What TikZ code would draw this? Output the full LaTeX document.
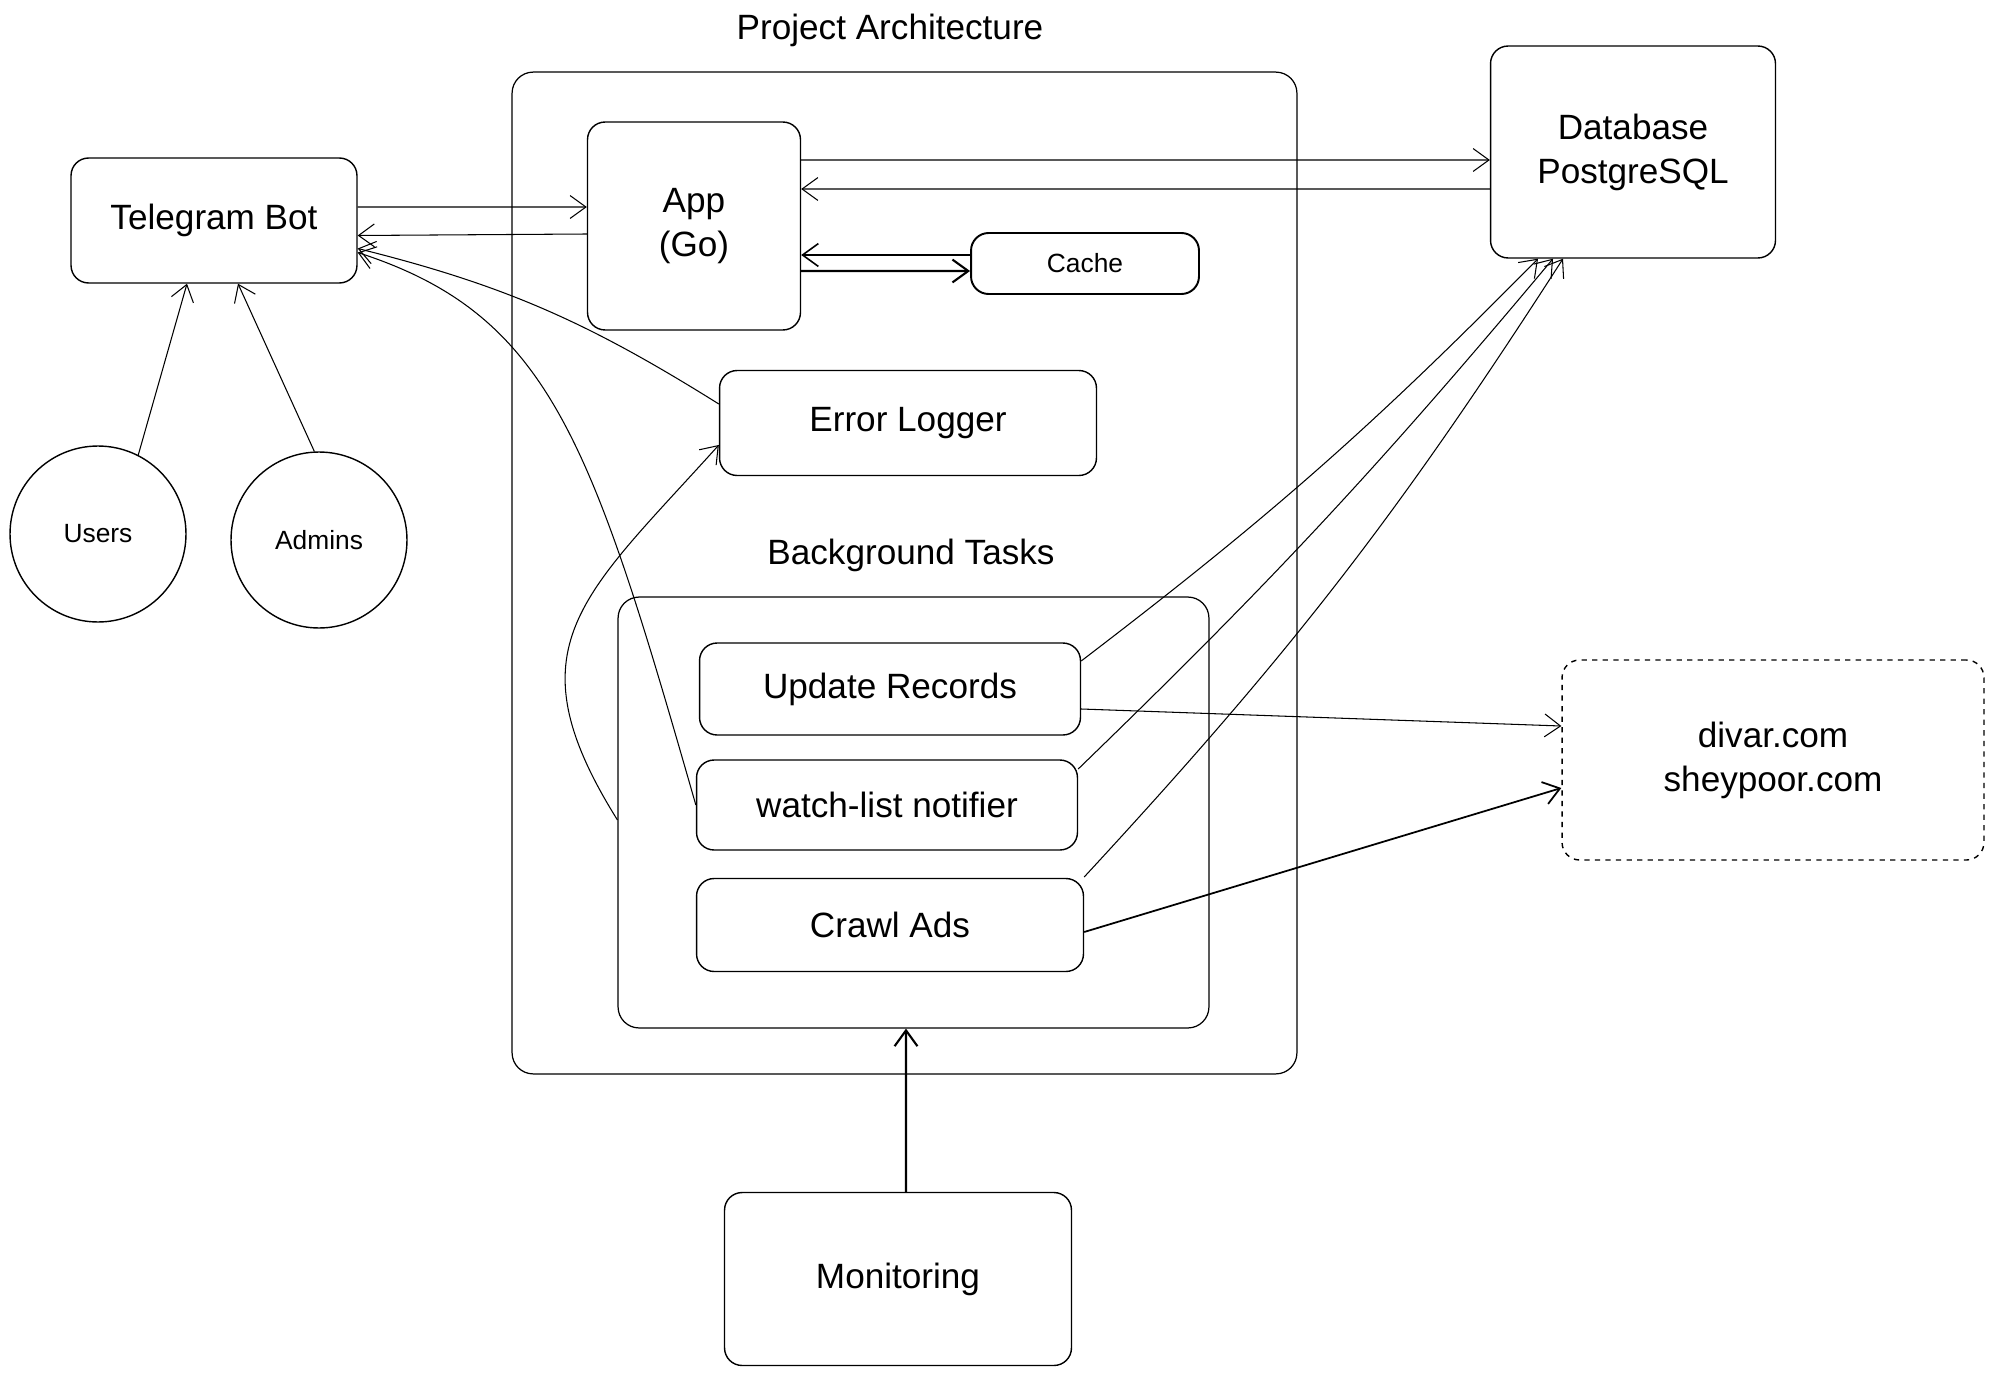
\documentclass[tikz,border=0pt]{standalone}
\usepackage{fontspec}
\setmainfont{Liberation Sans}
\usetikzlibrary{positioning}
\usetikzlibrary{arrows.meta}
\tikzset{
  block/.style={draw,rounded corners=10pt,line width=0.8pt,align=center,inner sep=0pt,font=\fontsize{20}{25}\selectfont},
  small block/.style={block,font=\fontsize{15}{18}\selectfont},
  actor/.style={circle,draw,line width=0.8pt,minimum size=3.52cm,inner sep=0pt,font=\fontsize{15}{18}\selectfont},
  frame/.style={draw,rounded corners=12pt,line width=0.7pt,inner sep=0pt},
  heading/.style={font=\fontsize{20}{24}\selectfont},
  link/.style={->,line width=0.6pt},
  strong link/.style={->,line width=1.2pt},
}

\begin{document}
\begin{tikzpicture}[x=0.02cm,y=-0.02cm,>={Straight Barb[length=9pt,width=13pt]}]
    \useasboundingbox (0,0) rectangle (1993,1375);

    % containers
    \node[frame,minimum width=15.7cm,minimum height=20.04cm] (proj) at (904.5,573) {};
    \node[heading] (projtitle) at (890,30) {Project Architecture};
    \node[frame,minimum width=11.82cm,minimum height=8.62cm] (bg) at (913.5,812.5) {};
    \node[heading] (bgtitle) at (911,555) {Background Tasks};

    % main blocks
    \node[block,minimum width=5.72cm,minimum height=2.5cm] (tg) at (214,220.5) {Telegram Bot};
    \node[block,minimum width=4.26cm,minimum height=4.16cm] (app) at (694,226) {App\\(Go)};
    \node[small block,minimum width=4.56cm,minimum height=1.22cm,line width=1.1pt] (cache) at (1085,263.5) {Cache};
    \node[block,minimum width=5.7cm,minimum height=4.24cm] (db) at (1633,152) {Database\\PostgreSQL};
    \node[block,minimum width=7.54cm,minimum height=2.1cm] (logger) at (908,423) {Error Logger};

    \node[actor] (users) at (98,534) {Users};
    \node[actor] (admins) at (319,540) {Admins};

    % tasks
    \node[block,minimum width=7.62cm,minimum height=1.84cm] (upd) at (890,689) {Update Records};
    \node[block,minimum width=7.62cm,minimum height=1.8cm] (notifier) at (887,805) {watch-list notifier};
    \node[block,minimum width=7.74cm,minimum height=1.86cm] (crawl) at (890,925) {Crawl Ads};

    \node[block,dashed,minimum width=8.44cm,minimum height=4cm] (sites) at (1773,760) {divar.com\\sheypoor.com};
    \node[block,minimum width=6.94cm,minimum height=3.46cm] (mon) at (898,1279) {Monitoring};

    % bot <-> app <-> db / cache
    \draw[link] ([yshift=0.27cm]tg.east) -- ([yshift=0.38cm]app.west);
    \draw[link] ([yshift=-0.16cm]app.west) -- ([yshift=-0.3cm]tg.east);
    \draw[link] ([yshift=1.32cm]app.east) -- ([yshift=-0.16cm]db.west);
    \draw[link] ([yshift=-0.74cm]db.west) -- ([yshift=0.74cm]app.east);
    \draw[link,line width=0.9pt] ([yshift=0.17cm]cache.west) -- ([yshift=-0.58cm]app.east);
    \draw[strong link] ([yshift=-0.9cm]app.east) -- ([yshift=-0.15cm]cache.west);

    \draw[link] (users.63) -- ([xshift=-0.54cm]tg.south);
    \draw[link] (admins.93) -- ([xshift=0.48cm]tg.south);

    % loggers and notifications
    \draw[link] ([yshift=0.38cm]logger.west) to[out=148,in=-14] ([yshift=-0.56cm]tg.east);
    \draw[link] (notifier.west) to[out=106,in=-18,out looseness=1.5,in looseness=0.8] ([yshift=-0.64cm]tg.east);
    \draw[link] ([yshift=-0.15cm]bg.west) to[out=122,in=228,looseness=1.35] ([yshift=-0.44cm]logger.west);

    % tasks -> db / sites
    \draw[link] ([yshift=0.56cm]upd.east) to[bend right=4] ([xshift=-1.9cm]db.south);
    \draw[link] ([yshift=0.72cm]notifier.east) to[bend right=3] ([xshift=-1.6cm]db.south);
    \draw[link] ([yshift=0.96cm]crawl.east) to[bend right=5] ([xshift=-1.4cm]db.south);
    \draw[link] ([yshift=-0.4cm]upd.east) -- ([yshift=0.68cm]sites.west);
    \draw[strong link,line width=1pt] ([yshift=-0.14cm]crawl.east) -- ([yshift=-0.56cm]sites.west);

    \draw[strong link] ([xshift=0.16cm]mon.north) -- ([xshift=-0.15cm]bg.south);
\end{tikzpicture}
\end{document}
